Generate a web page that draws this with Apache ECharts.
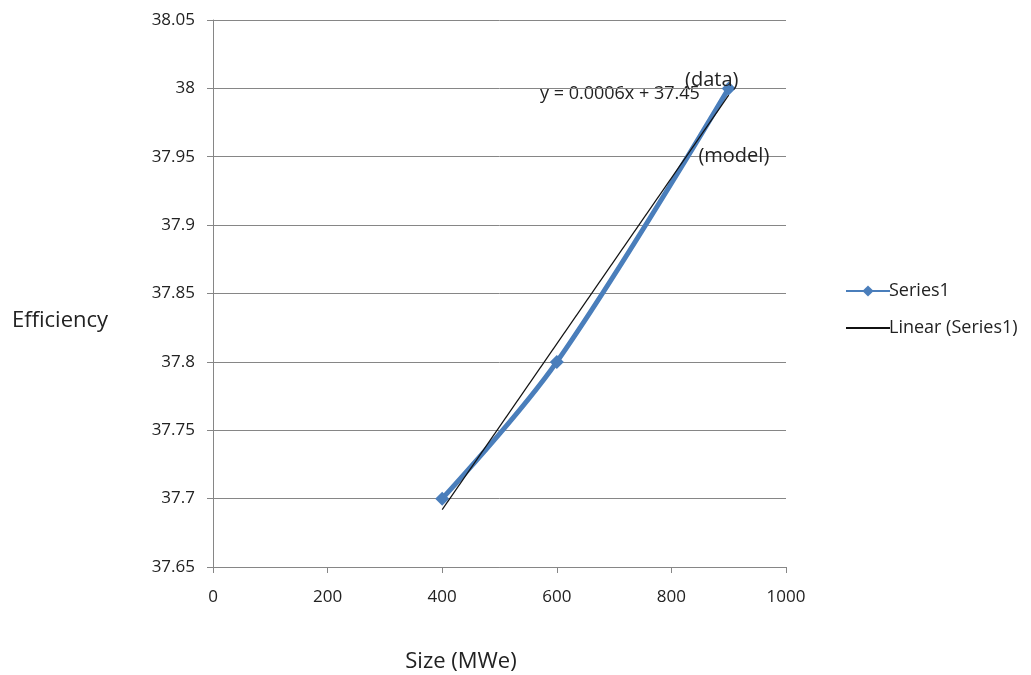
<!DOCTYPE html>
<html>
<head>
<meta charset="utf-8">
<script src="https://cdn.jsdelivr.net/npm/echarts@6/dist/echarts.min.js"></script>
<style>
  html, body { margin: 0; padding: 0; background: #fff; }
  #chart { width: 1031px; height: 675px; }
</style>
</head>
<body>
<div id="chart"></div>
<script>
// data
const sizes = [400, 600, 900];
const efficiency = [37.7, 37.8, 38.0];
// linear trend y = 0.0006x + 37.45 (exact fit of the three points)
const trendX = [400, 900];
const trendY = [37.692, 37.995];
const equationText = 'y = 0.0006x + 37.45';

const font = '"Open Sans", "Liberation Sans", sans-serif';
const gray = '#868686';

const chart = echarts.init(document.getElementById('chart'));
chart.setOption({
  animation: false,
  textStyle: { fontFamily: font },
  grid: { left: 213, right: 245, top: 20, bottom: 108, outerBoundsMode: 'none', containLabel: false },
  legend: {
    orient: 'vertical',
    left: 840,
    top: 277,
    itemGap: 19,
    itemWidth: 44,
    itemHeight: 14,
    textStyle: { fontSize: 18, color: '#222', fontFamily: font, padding: [0, 0, 0, -6] },
    data: [
      { name: 'Series1' },
      { name: 'Linear (Series1)', itemStyle: { opacity: 0 } }
    ]
  },
  xAxis: {
    type: 'value',
    min: 0, max: 1000, interval: 200,
    name: 'Size (MWe)',
    nameLocation: 'middle',
    nameGap: 84,
    nameTextStyle: { fontSize: 22, color: '#222', padding: [0, 77, 0, 0] },
    axisLine: { lineStyle: { color: gray } },
    axisTick: { show: true, length: 6, lineStyle: { color: gray } },
    axisLabel: { fontSize: 17, color: '#222', margin: 22, formatter: v => String(v) },
    splitLine: { show: false }
  },
  yAxis: {
    type: 'value',
    min: 37.65, max: 38.05, interval: 0.05,
    axisLine: { show: true, lineStyle: { color: gray } },
    axisTick: { show: true, length: 6, lineStyle: { color: gray } },
    axisLabel: {
      fontSize: 17, color: '#222', margin: 18,
      formatter: v => String(+v.toFixed(2))
    },
    splitLine: { lineStyle: { color: gray, width: 1 } }
  },
  series: [
    {
      name: 'Series1',
      type: 'line',
      smooth: 0.35,
      data: sizes.map((s, i) => [s, efficiency[i]]),
      symbol: 'diamond',
      symbolSize: 14,
      lineStyle: { color: '#4A7EBB', width: 5 },
      itemStyle: { color: '#4A7EBB' },
      label: {
        show: true,
        formatter: p => p.dataIndex === 2 ? '(data)' : '',
        position: 'top',
        offset: [-17, 14],
        fontSize: 20,
        color: '#222'
      },
      z: 2
    },
    {
      name: 'Linear (Series1)',
      type: 'line',
      data: trendX.map((x, i) => [x, trendY[i]]),
      symbol: 'none',
      lineStyle: { color: '#111', width: 1.2 },
      itemStyle: { color: '#111' },
      markPoint: {
        symbol: 'rect',
        symbolSize: 1,
        itemStyle: { color: 'transparent' },
        label: {
          show: true, fontSize: 20, color: '#222',
          formatter: p => p.name
        },
        data: [
          { name: '(model)', coord: [909, 37.95] }
        ]
      },
      z: 3
    }
  ],
  graphic: [
    {
      type: 'text',
      left: 540,
      top: 85,
      style: { text: equationText, fill: '#222', font: '18px ' + font }
    },
    {
      type: 'text',
      left: 12,
      top: 310,
      style: { text: 'Efficiency', fill: '#222', font: '22px ' + font }
    }
  ]
});
</script>
</body>
</html>
